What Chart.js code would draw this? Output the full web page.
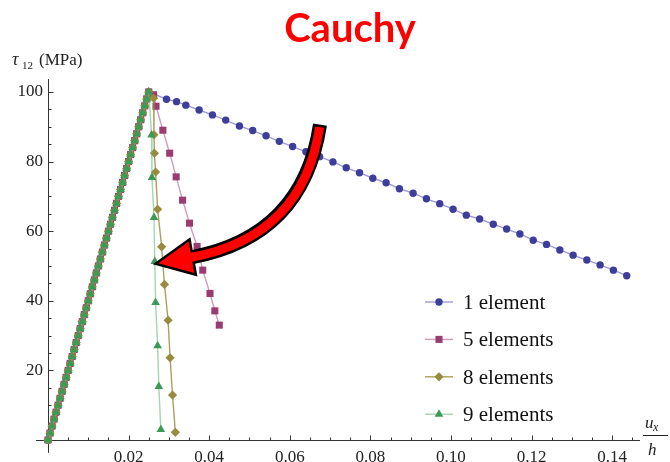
<!DOCTYPE html>
<html>
<head>
<meta charset="utf-8">
<title>Cauchy</title>
<script src="https://cdn.jsdelivr.net/npm/chart.js@4.4.1/dist/chart.umd.min.js"></script>
<style>
  html, body { margin: 0; padding: 0; background: #fff; }
  #wrap { width: 670px; height: 462px; }
</style>
</head>
<body>
<div id="wrap"><canvas id="shearChart" width="670" height="462"></canvas></div>
<script>
// Elastic branch, identical for every mesh (u_x/h, tau_12 in MPa)
const elasticStrain = [0, 0.0005, 0.001, 0.0015, 0.002, 0.0025, 0.003, 0.0035, 0.004, 0.0045,
  0.005, 0.0055, 0.006, 0.0065, 0.007, 0.0075, 0.008, 0.0085, 0.009, 0.0095,
  0.01, 0.0105, 0.011, 0.0115, 0.012, 0.0125, 0.013, 0.0135, 0.014, 0.0145,
  0.015, 0.0155, 0.016, 0.0165, 0.017, 0.0175, 0.018, 0.0185, 0.019, 0.0195,
  0.02, 0.0205, 0.021, 0.0215, 0.022, 0.0225, 0.023, 0.0235, 0.024, 0.0245, 0.025];
const elasticStress = [0, 2, 4, 6, 8, 10, 12, 14, 16, 18,
  20, 22, 24, 26, 28, 30, 32, 34, 36, 38,
  40, 42, 44, 46, 48, 50, 52, 54, 56, 58,
  60, 62, 64, 66, 68, 70, 72, 74, 76, 78,
  80, 82, 84, 86, 88, 90, 92, 94, 96, 98, 100];

// Softening branches after the peak
const strain1el = [0.0294, 0.0319, 0.0342, 0.0375, 0.0408, 0.0441, 0.0475, 0.0508, 0.0541, 0.0574,
  0.0607, 0.0640, 0.0674, 0.0707, 0.0740, 0.0773, 0.0806, 0.0839, 0.0872, 0.0906,
  0.0939, 0.0972, 0.1005, 0.1038, 0.1071, 0.1105, 0.1138, 0.1171, 0.1204, 0.1237,
  0.1270, 0.1303, 0.1337, 0.1370, 0.1403, 0.1436];
const stress1el = [97.9, 97.2, 96.2, 94.8, 93.4, 91.9, 90.2, 88.9, 87.4, 85.8,
  84.3, 82.8, 81.4, 79.9, 78.2, 76.8, 75.2, 73.9, 72.2, 70.9,
  69.3, 67.9, 66.3, 64.6, 63.5, 62.0, 60.6, 59.2, 57.4, 56.2,
  54.6, 53.1, 51.7, 50.3, 48.8, 47.2];

const strain5el = [0.0262, 0.0268, 0.0285, 0.0302, 0.0318, 0.0334, 0.0351, 0.0370, 0.0384, 0.0402, 0.0414, 0.0425];
const stress5el = [99.2, 95.9, 89.0, 82.4, 75.6, 68.9, 62.3, 55.6, 48.8, 42.1, 37.1, 33.0];

const strain8el = [0.0262, 0.0263, 0.0264, 0.0267, 0.0272, 0.0282, 0.0289, 0.0298, 0.0303, 0.0309, 0.0316];
const stress8el = [98.2, 87.7, 82.4, 77.0, 66.3, 55.5, 44.7, 34.4, 23.6, 12.9, 2.2];

const strain9el = [0.0257, 0.0258, 0.0263, 0.0265, 0.0267, 0.0272, 0.0275, 0.0280];
const stress9el = [87.6, 75.4, 63.9, 51.3, 39.5, 27.1, 15.4, 3.0];

const seriesLabels = ['1 element', '5 elements', '8 elements', '9 elements'];
const xTickValues = [0.02, 0.04, 0.06, 0.08, 0.10, 0.12, 0.14];
const yTickValues = [20, 40, 60, 80, 100];

// Curved arrow, in data units: tail, bend control, head base, tip
const arrowTail = [0.0674, 89.9];
const arrowBend = [0.0633, 58.5];
const arrowBase = [0.0356, 52.5];
const arrowTip = [0.0274, 50.8];

function toPoints(xs, ys) {
  return xs.map((x, i) => ({ x: x, y: ys[i] }));
}
function withElastic(xs, ys) {
  return toPoints(elasticStrain.concat(xs), elasticStress.concat(ys));
}

const serif = '"Liberation Serif", "DejaVu Serif", serif';

function series(label, data, marker, line, style, radius, order) {
  return {
    label: label,
    data: data,
    showLine: true,
    borderColor: line,
    borderWidth: 1.4,
    pointStyle: style,
    pointRadius: radius,
    pointHoverRadius: radius,
    pointBackgroundColor: marker,
    pointBorderWidth: 0,
    clip: false,
    order: order
  };
}

const datasets = [
  series(seriesLabels[0], withElastic(strain1el, stress1el), '#3d3d9c', 'rgba(90,90,185,0.6)', 'circle', 3.7, 4),
  series(seriesLabels[1], withElastic(strain5el, stress5el), '#993d71', 'rgba(175,90,140,0.6)', 'rect', 5, 3),
  series(seriesLabels[2], withElastic(strain8el, stress8el), '#998b3d', 'rgba(150,135,55,0.8)', 'rectRot', 4.6, 2),
  series(seriesLabels[3], withElastic(strain9el, stress9el), '#3d9956', 'rgba(100,185,125,0.6)', 'triangle', 5, 1)
];

// Axes crossing at the origin, with inward ticks
const axesPlugin = {
  id: 'originAxes',
  beforeDatasetsDraw(chart) {
    const { ctx, chartArea, scales: { x, y } } = chart;
    const x0 = Math.round(x.getPixelForValue(0)) + 0.5;
    const y0 = Math.round(y.getPixelForValue(0)) + 0.5;
    ctx.save();
    ctx.strokeStyle = '#333';
    ctx.lineWidth = 1;
    ctx.beginPath();
    ctx.moveTo(x.getPixelForValue(-0.003), y0);
    ctx.lineTo(chartArea.right, y0);
    ctx.moveTo(x0, chartArea.top + 1);
    ctx.lineTo(x0, y.getPixelForValue(-3.7));
    ctx.stroke();

    ctx.beginPath();
    for (let k = 1; k * 0.005 <= x.max; k++) {
      const px = Math.round(x.getPixelForValue(k * 0.005)) + 0.5;
      const len = k % 4 === 0 ? 5 : 3;
      ctx.moveTo(px, y0);
      ctx.lineTo(px, y0 - len);
    }
    for (let k = 1; k * 5 <= y.max; k++) {
      const py = Math.round(y.getPixelForValue(k * 5)) + 0.5;
      const len = k % 4 === 0 ? 5 : 3;
      ctx.moveTo(x0, py);
      ctx.lineTo(x0 + len, py);
    }
    ctx.stroke();
    ctx.restore();
  }
};

const arrowPlugin = {
  id: 'curvedArrow',
  afterDatasetsDraw(chart) {
    const { ctx, scales: { x, y } } = chart;
    const px = p => [x.getPixelForValue(p[0]), y.getPixelForValue(p[1])];
    const [tx, ty] = px(arrowTail);
    const [cx, cy] = px(arrowBend);
    const [bx, by] = px(arrowBase);
    const [hx, hy] = px(arrowTip);
    const dx = hx - bx, dy = hy - by;
    const len = Math.hypot(dx, dy);
    const nx = -dy / len * 16, ny = dx / len * 16;
    const sx = tx - cx, sy = ty - cy, sl = Math.hypot(sx, sy);

    const shaft = extend => {
      ctx.beginPath();
      ctx.moveTo(tx + sx / sl * extend, ty + sy / sl * extend);
      ctx.quadraticCurveTo(cx, cy, bx, by);
      ctx.lineTo(bx + dx * 0.3, by + dy * 0.3);
    };
    const head = () => {
      ctx.beginPath();
      ctx.moveTo(hx, hy);
      ctx.lineTo(bx + nx, by + ny);
      ctx.lineTo(bx - nx, by - ny);
      ctx.closePath();
    };

    ctx.save();
    ctx.lineCap = 'butt';
    ctx.lineJoin = 'miter';
    ctx.strokeStyle = '#000';
    shaft(2.5);
    ctx.lineWidth = 14;
    ctx.stroke();
    head();
    ctx.lineWidth = 5;
    ctx.stroke();
    ctx.strokeStyle = '#ff0000';
    shaft(0);
    ctx.lineWidth = 9;
    ctx.stroke();
    head();
    ctx.fillStyle = '#ff0000';
    ctx.fill();
    ctx.restore();
  }
};

// Title, axis captions and the series key
const textPlugin = {
  id: 'captions',
  afterDraw(chart) {
    const ctx = chart.ctx;
    ctx.save();
    ctx.fillStyle = '#ff0000';
    ctx.font = 'bold 40px Lato, "Open Sans", sans-serif';
    ctx.textAlign = 'center';
    ctx.textBaseline = 'alphabetic';
    ctx.fillText('Cauchy', 350, 42);

    ctx.fillStyle = '#222';
    ctx.textAlign = 'left';
    ctx.font = 'italic 18px ' + serif;
    ctx.fillText('τ', 12, 65);
    ctx.font = '11px ' + serif;
    ctx.fillText('12', 22, 69);
    ctx.font = '17px ' + serif;
    ctx.fillText('(MPa)', 39, 65);

    ctx.font = 'italic 17px ' + serif;
    ctx.fillText('u', 645, 428);
    ctx.font = 'italic 12px ' + serif;
    ctx.fillText('x', 653, 431);
    ctx.font = 'italic 17px ' + serif;
    ctx.fillText('h', 648, 455);
    ctx.strokeStyle = '#222';
    ctx.lineWidth = 1;
    ctx.beginPath();
    ctx.moveTo(643, 435.5);
    ctx.lineTo(668, 435.5);
    ctx.stroke();

    chart.data.datasets.forEach((ds, i) => {
      const rowY = 302 + i * 37.4;
      ctx.strokeStyle = ds.borderColor;
      ctx.lineWidth = 1.4;
      ctx.beginPath();
      ctx.moveTo(425, rowY);
      ctx.lineTo(453, rowY);
      ctx.stroke();
      ctx.fillStyle = ds.pointBackgroundColor;
      Chart.helpers.drawPoint(ctx, { pointStyle: ds.pointStyle, radius: ds.pointRadius, rotation: 0, borderWidth: 0 }, 439, rowY);
      ctx.fillStyle = '#111';
      ctx.font = '21px ' + serif;
      ctx.textBaseline = 'alphabetic';
      ctx.fillText(ds.label, 463, rowY + 7);
    });
    ctx.restore();
  }
};

new Chart(document.getElementById('shearChart'), {
  type: 'scatter',
  data: { datasets: datasets },
  options: {
    responsive: false,
    animation: false,
    layout: { padding: { left: 0, right: 30, top: 78, bottom: 0 } },
    plugins: { legend: { display: false }, tooltip: { enabled: false } },
    scales: {
      x: {
        type: 'linear',
        min: 0,
        max: 0.1469,
        grid: { display: false, drawTicks: false },
        border: { display: false },
        afterBuildTicks: axis => { axis.ticks = xTickValues.map(v => ({ value: v })); },
        afterFit: scale => { scale.height = 22; },
        ticks: {
          autoSkip: false,
          maxRotation: 0,
          padding: 7,
          color: '#222',
          font: { family: serif, size: 17 },
          callback: v => v.toFixed(2)
        }
      },
      y: {
        type: 'linear',
        min: 0,
        max: 104,
        grid: { display: false, drawTicks: false },
        border: { display: false },
        afterBuildTicks: axis => { axis.ticks = yTickValues.map(v => ({ value: v })); },
        afterFit: scale => { scale.width = 48; },
        ticks: {
          autoSkip: false,
          padding: 5,
          color: '#222',
          font: { family: serif, size: 17 },
          callback: v => String(v)
        }
      }
    }
  },
  plugins: [axesPlugin, arrowPlugin, textPlugin]
});
</script>
</body>
</html>
